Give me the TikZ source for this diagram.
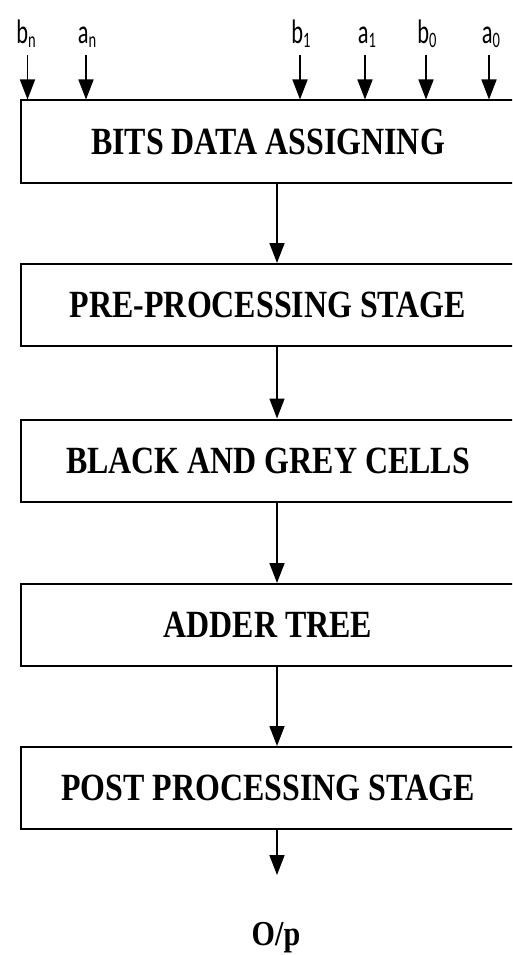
\documentclass[tikz,border=0pt]{standalone}
\usepackage{fontspec}
\setmainfont{Liberation Serif}
\newfontfamily\labfont{Carlito}
\usetikzlibrary{arrows.meta}
\tikzset{
  stagebox/.style={draw, line width=2pt, rectangle, inner sep=0pt,
    minimum width=494pt, minimum height=82pt,
    font=\bfseries\fontsize{38.5}{40}\selectfont},
  arr/.style={line width=1.6pt, -{Triangle[length=20pt,width=15pt]}},
  inlab/.style={anchor=base, inner sep=0pt, font=\labfont\fontsize{34}{36}\selectfont}
}
\newcommand{\sq}[1]{\scalebox{0.83}[1]{#1}}
\newcommand{\lb}[2]{\scalebox{0.66}[1]{#1\raisebox{-4pt}{\fontsize{22}{22}\selectfont #2}}}
\begin{document}
\begin{tikzpicture}[x=1pt,y=-1pt]
\useasboundingbox (0,0) rectangle (512,955);
\clip (0,0) rectangle (512,955);
\fill[white] (0,0) rectangle (512,955);

\node[stagebox] (s1) at (268,141.5) {\sq{BITS DATA ASSIGNING}};
\node[stagebox] (s2) at (268,305) {\sq{PRE-PROCESSING STAGE}};
\node[stagebox] (s3) at (268,460.5) {\sq{BLACK AND GREY CELLS}};
\node[stagebox] (s4) at (268,625) {\sq{ADDER TREE}};
\node[stagebox] (s5) at (268,788) {\sq{POST PROCESSING STAGE}};

\coordinate (ax) at (277,0);
\draw[arr] (s1.south -| ax) -- (s2.north -| ax);
\draw[arr] (s2.south -| ax) -- (s3.north -| ax);
\draw[arr] (s3.south -| ax) -- (s4.north -| ax);
\draw[arr] (s4.south -| ax) -- (s5.north -| ax);
\coordinate (out) at (277,875);
\draw[arr] (s5.south -| ax) -- (out);
\node[anchor=base, inner sep=0pt, font=\bfseries\fontsize{35}{37}\selectfont] (op) at (276,945) {\scalebox{0.86}[1]{O/p}};

\node[inlab] (bn) at (26,44) {\lb{b}{n}};
\node[inlab] (an) at (87,44) {\lb{a}{n}};
\node[inlab] (b1) at (301,44) {\lb{b}{1}};
\node[inlab] (a1) at (367,44) {\lb{a}{1}};
\node[inlab] (b0) at (427,44) {\lb{b}{0}};
\node[inlab] (a0) at (491,44) {\lb{a}{0}};
\foreach \n/\xx in {bn/27.5, an/86, b1/300, a1/365, b0/426, a0/489}{
  \coordinate (t\n) at (\xx,55);
  \draw[arr] (t\n) -- (t\n |- s1.north);
}
\end{tikzpicture}
\end{document}
